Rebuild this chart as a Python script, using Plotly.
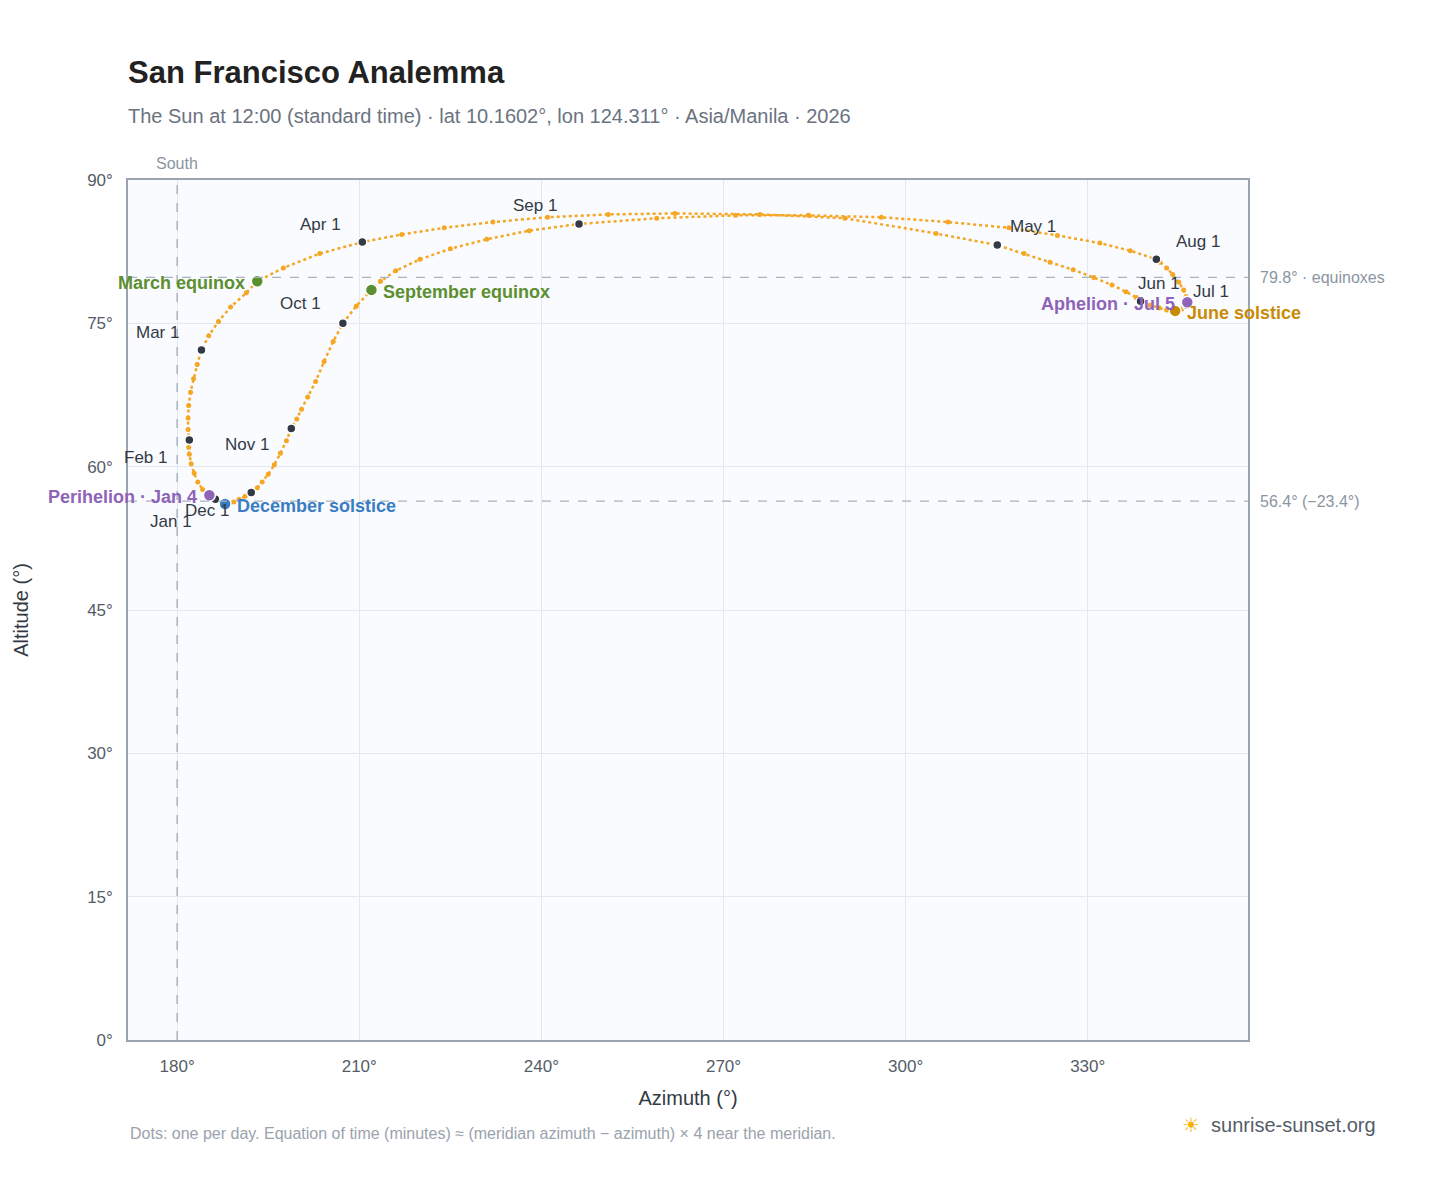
import plotly.graph_objects as go

azimuth = [186.3, 185.3, 184.2, 183.4, 182.8, 182.3, 182.0, 181.9, 182.0,
           181.8, 181.8, 181.9, 182.2, 182.7, 183.3, 184.0,
           185.2, 186.8, 188.8, 191.4, 193.2, 197.5, 203.5, 210.5,
           217, 224, 232, 241, 251, 262, 276, 290, 305, 315,
           319.5, 323.8, 327.6, 331, 334, 336.3, 338, 338.7,
           340.3, 341.8, 343, 343.8, 344.4, 345.5, 346.3,
           346.4, 346.2, 345.8, 345, 344, 343, 341.9, 341.3,
           337, 332, 325, 317, 307, 296, 284, 272, 259, 246.2,
           238, 231, 225, 220, 216, 213.5, 212, 209.5, 207.3,
           205.7, 204.2, 202.8, 201.5, 200.5, 199.7, 198.8,
           198, 197, 196, 195, 194, 193.2, 192.2,
           191.2, 190.2, 189.3, 188.6, 187.9, 187.3, 186.7, 186.4]
altitude = [56.6, 57.0, 57.6, 58.4, 59.3, 60.3, 61.3, 62.0, 62.8,
            63.9, 65.1, 66.4, 67.8, 69.2, 70.7, 72.2,
            73.7, 75.2, 76.7, 78.2, 79.4, 80.8, 82.3, 83.5,
            84.3, 85.0, 85.6, 86.1, 86.4, 86.5, 86.4, 86.0, 84.4, 83.2,
            82.3, 81.4, 80.6, 79.8, 79.0, 78.3, 77.7, 77.3,
            76.9, 76.6, 76.4, 76.3, 76.3, 76.5, 76.9,
            77.2, 77.8, 78.5, 79.3, 80.1, 80.8, 81.4, 81.7,
            82.6, 83.4, 84.2, 85.0, 85.6, 86.1, 86.3, 86.3, 86.0, 85.4,
            84.7, 83.8, 82.8, 81.7, 80.5, 79.4, 78.5, 76.8, 75.0,
            73.1, 71.0, 68.9, 67.3, 66.0, 65.0, 64.0,
            62.7, 61.4, 60.2, 59.2, 58.4, 57.8, 57.3,
            56.9, 56.6, 56.3, 56.2, 56.1, 56.2, 56.4, 56.5]

months = ["Jan 1", "Feb 1", "Mar 1", "Apr 1", "May 1", "Jun 1", "Jul 1", "Aug 1",
          "Sep 1", "Oct 1", "Nov 1", "Dec 1"]
month_az = [186.3, 182.0, 184.0, 210.5, 315.1, 338.7, 346.3, 341.3, 246.2, 207.3, 198.8, 192.2]
month_alt = [56.6, 62.8, 72.2, 83.5, 83.2, 77.3, 76.9, 81.7, 85.4, 75.0, 64.0, 57.3]
month_shift = [(-44, -22), (-44, -18), (-44, 18), (-42, 18), (36, 18), (18, 18), (24, 14),
               (42, 18), (-44, 18), (-42, 20), (-44, -16), (-44, -18)]

events = ["March equinox", "September equinox", "December solstice", "June solstice",
          "Perihelion · Jan 4", "Aphelion · Jul 5"]
event_az = [193.2, 212.0, 187.9, 344.4, 185.3, 346.4]
event_alt = [79.4, 78.5, 56.1, 76.3, 57.0, 77.2]
event_color = ["#5b8f2f", "#5b8f2f", "#3b7dc4", "#c98b06", "#8e63b8", "#8e63b8"]
event_side = ["left", "right", "right", "right", "left", "left"]

fig = go.Figure()
fig.add_trace(go.Scatter(x=azimuth, y=altitude, mode="lines+markers",
                         line=dict(color="#f5a623", width=2.5, dash="dot"),
                         marker=dict(size=5, color="#f5a623"), hoverinfo="skip"))
fig.add_trace(go.Scatter(x=month_az, y=month_alt, mode="markers",
                         marker=dict(size=9, color="#323a45", line=dict(color="white", width=1.5))))
fig.add_trace(go.Scatter(x=event_az, y=event_alt, mode="markers",
                         marker=dict(size=12, color=event_color, line=dict(color="white", width=1.5))))

for m, x, y, (dx, dy) in zip(months, month_az, month_alt, month_shift):
    fig.add_annotation(x=x, y=y, text=m, showarrow=False, xshift=dx, yshift=dy,
                       font=dict(size=17, color="#333a44"))
for e, x, y, c, s in zip(events, event_az, event_alt, event_color, event_side):
    fig.add_annotation(x=x, y=y, text="<b>%s</b>" % e, showarrow=False,
                       xanchor="right" if s == "left" else "left",
                       xshift=-10 if s == "left" else 10, yshift=-2,
                       font=dict(size=18, color=c))

for y, t in [(79.8, "79.8° · equinoxes"), (56.4, "56.4° (−23.4°)")]:
    fig.add_hline(y=y, line=dict(color="#aab3bf", width=1.3, dash="dash"))
    fig.add_annotation(x=1, xref="paper", y=y, text=t, showarrow=False, xanchor="left",
                       xshift=10, font=dict(size=16, color="#8b95a2"))
fig.add_vline(x=180, line=dict(color="#aab3bf", width=1.5, dash="dash"))
fig.add_annotation(x=180, y=1, yref="paper", text="South", showarrow=False,
                   yanchor="bottom", yshift=6, font=dict(size=16, color="#8b95a2"))

fig.add_annotation(x=0, xref="paper", y=-0.121, yref="paper", xanchor="left",
                   text="Dots: one per day. Equation of time (minutes) ≈ (meridian azimuth − azimuth) × 4 near the meridian.",
                   showarrow=False, font=dict(size=16, color="#9aa2ad"))
fig.add_annotation(x=1.116, xref="paper", y=-0.114, yref="paper", xanchor="right",
                   text="<span style='color:#f5b400'>☀</span>  sunrise-sunset.org",
                   showarrow=False, font=dict(size=20, color="#555d68"))

axis = dict(showgrid=True, gridcolor="#e3e8ee", zeroline=False, showline=True, mirror=True,
            linecolor="#9aa4b1", linewidth=1.5, ticks="", tickfont=dict(size=17, color="#555d68"),
            title_font=dict(size=20, color="#333a44"), automargin=False, ticklabelstandoff=10)
fig.update_xaxes(axis, range=[171.9, 356.4], tickvals=[180, 210, 240, 270, 300, 330],
                 ticktext=["180°", "210°", "240°", "270°", "300°", "330°"], title_text="Azimuth (°)",
                 title_standoff=16)
fig.update_yaxes(axis, range=[0, 90], tickvals=[0, 15, 30, 45, 60, 75, 90],
                 ticktext=["0°", "15°", "30°", "45°", "60°", "75°", "90°"], title_text="Altitude (°)",
                 title_standoff=53)

fig.update_layout(
    width=1448, height=1188, showlegend=False,
    paper_bgcolor="white", plot_bgcolor="#f9fbfe",
    font=dict(family="Liberation Sans, Arial, sans-serif"),
    margin=dict(l=120, r=208, t=172, b=156, autoexpand=False),
    title=dict(text="<b>San Francisco Analemma</b><br><span style='font-size:20px;color:#6b7380'>"
               "The Sun at 12:00 (standard time) · lat 10.1602°, lon 124.311° · Asia/Manila · 2026</span>",
               x=120 / 1448, xanchor="left", y=0.937, yanchor="top", yref="container",
               font=dict(size=31, color="#222")),
)
fig.write_html("out.html")
